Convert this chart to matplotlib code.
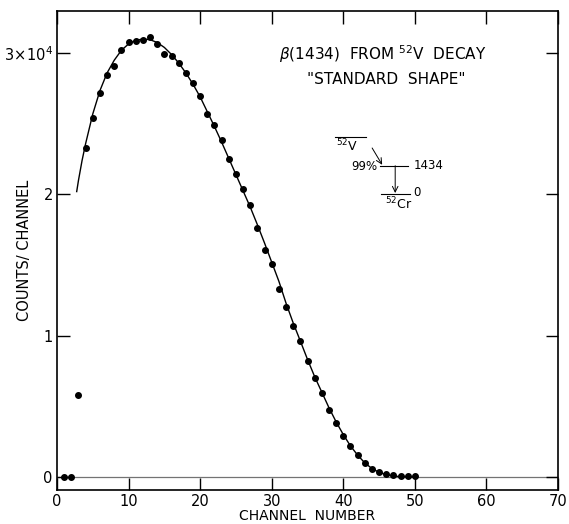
import matplotlib.pyplot as plt
import numpy as np

# channel data (counts per channel)
channel = [1, 2, 3, 4, 5, 6, 7, 8, 9, 10, 11, 12, 13, 14, 15, 16, 17, 18, 19, 20,
           21, 22, 23, 24, 25, 26, 27, 28, 29, 30, 31, 32, 33, 34, 35, 36, 37, 38, 39, 40,
           41, 42, 43, 44, 45, 46, 47, 48, 49, 50]
counts = [0, 0, 5770, 23300, 25400, 27150, 28450, 29100, 30200, 30760, 30860, 30950, 31120, 30620, 29940, 29820, 29280, 28570, 27900, 26960,
          25710, 24910, 23850, 22500, 21440, 20360, 19250, 17600, 16060, 15070, 13280, 12000, 10690, 9625, 8230, 7000, 5970, 4740, 3800, 2900,
          2200, 1560, 1000, 600, 370, 200, 140, 90, 90, 70]

# "standard shape" fit curve
fit_ch = [2.75, 3, 3.5, 4, 5, 6, 7, 8, 9, 10, 11, 12, 13, 14, 15, 16, 17, 18, 19, 20,
          21, 22, 23, 24, 25, 26, 27, 28, 29, 30, 31, 32, 33, 34, 35, 36, 37, 38, 39, 40,
          41, 42, 43, 44, 45, 46, 47, 48, 49, 50]
fit_counts = [20200, 21000, 22400, 23600, 25700, 27350, 28600, 29500, 30200, 30650, 30900, 31000, 30950, 30750, 30400, 29900, 29300, 28600, 27800, 26900,
              25850, 24800, 23700, 22550, 21400, 20250, 19100, 17850, 16550, 15200, 13850, 12300, 10900, 9620, 8320, 7100, 6000, 4900, 3900, 3000,
              2200, 1550, 1000, 600, 330, 160, 70, 30, 10, 0]

xticks = [0, 10, 20, 30, 40, 50, 60, 70]
yticks = [0, 10000, 20000, 30000]
ytick_labels = ['0', '1', '2', r'$3\!\times\!10^{4}$']

fig = plt.figure(figsize=(5.69, 5.24), dpi=100)
ax = fig.add_axes([0.1002, 0.0649, 0.8805, 0.9141])

ax.axhline(0, color='0.45', lw=0.9, zorder=1)
ax.plot(fit_ch, fit_counts, color='k', lw=1.0, zorder=2)
ax.plot(channel, counts, 'o', color='k', ms=4, zorder=3)

ax.set_xlim(0, 70)
ax.set_ylim(-920, 32980)
ax.set_xticks(xticks)
ax.set_xticklabels([str(t) for t in xticks])
ax.set_yticks(yticks)
ax.set_yticklabels(ytick_labels)
ax.tick_params(direction='in', top=True, right=True, length=9, width=1, labelsize=10.5, pad=3)
for s in ax.spines.values():
    s.set_linewidth(1.2)

ax.set_xlabel('CHANNEL  NUMBER', fontsize=10)
ax.set_ylabel('COUNTS/ CHANNEL', fontsize=10.5)
ax.xaxis.set_label_coords(0.5, -0.039)
ax.yaxis.set_label_coords(-0.05, 0.5)

# title text inside the plot
ax.text(0.65, 0.91, r'$\beta$(1434)  FROM $^{52}$V  DECAY', transform=ax.transAxes,
        ha='center', va='center', fontsize=11)
ax.text(0.658, 0.858, '"STANDARD  SHAPE"', transform=ax.transAxes,
        ha='center', va='center', fontsize=11)

# decay scheme
tr = ax.transAxes
ax.plot([0.555, 0.617], [0.737, 0.737], color='k', lw=0.8, transform=tr)
ax.text(0.557, 0.718, r'$^{52}$V', transform=tr, ha='left', va='center', fontsize=9)
ax.annotate('', xy=(0.649, 0.679), xytext=(0.629, 0.714), xycoords=tr, textcoords=tr,
            arrowprops=dict(arrowstyle='->', color='k', lw=0.7, shrinkA=0, shrinkB=0))
ax.plot([0.645, 0.701], [0.677, 0.677], color='k', lw=0.8, transform=tr)
ax.text(0.711, 0.677, '1434', transform=tr, ha='left', va='center', fontsize=8.5)
ax.text(0.639, 0.676, '99%', transform=tr, ha='right', va='center', fontsize=8.5)
ax.annotate('', xy=(0.675, 0.620), xytext=(0.675, 0.677), xycoords=tr, textcoords=tr,
            arrowprops=dict(arrowstyle='->', color='k', lw=0.7, shrinkA=0, shrinkB=0))
ax.plot([0.647, 0.705], [0.618, 0.618], color='k', lw=0.8, transform=tr)
ax.text(0.711, 0.622, '0', transform=tr, ha='left', va='center', fontsize=8.5)
ax.text(0.655, 0.597, r'$^{52}$Cr', transform=tr, ha='left', va='center', fontsize=9)

fig.savefig('out.png', dpi=100)
